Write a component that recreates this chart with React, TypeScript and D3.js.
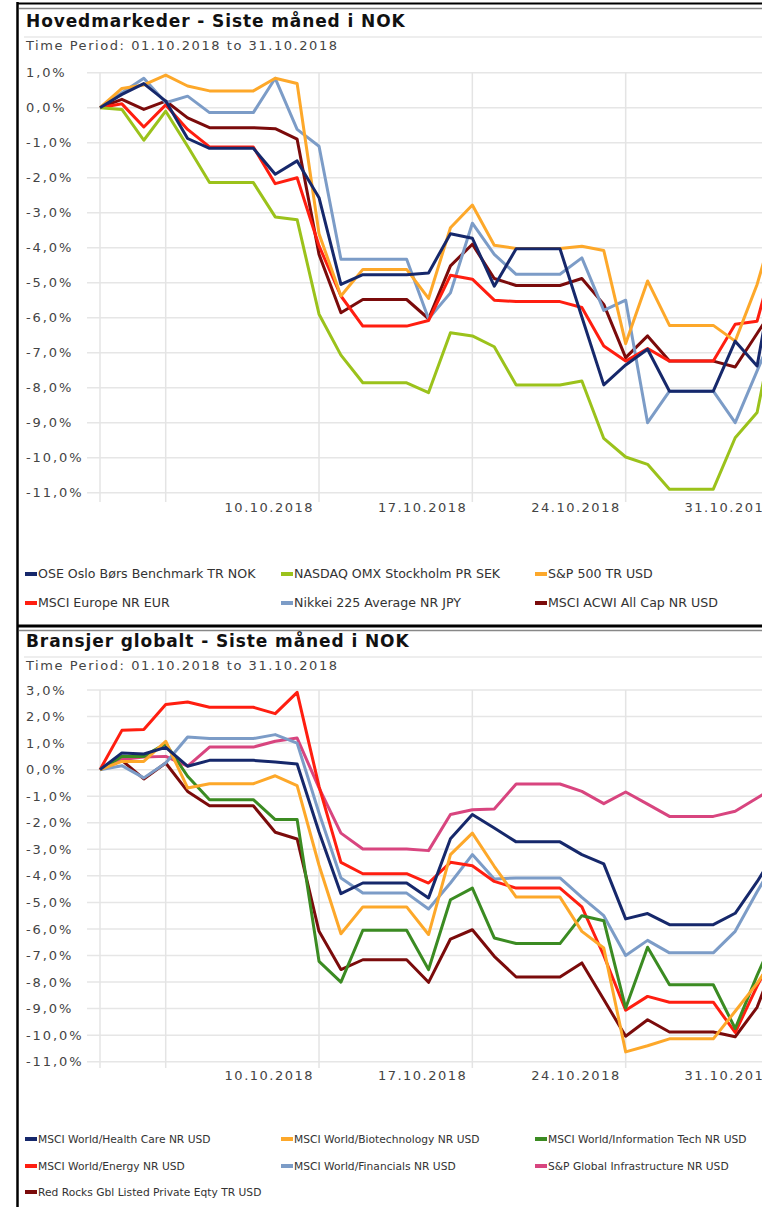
import React, { useEffect, useRef } from 'react';
import * as d3 from 'd3';

// calendar days shown on the x axis (weekends carry the previous value)
const dates = [
  '30.09.2018', '01.10.2018', '02.10.2018', '03.10.2018', '04.10.2018', '05.10.2018', '06.10.2018', '07.10.2018',
  '08.10.2018', '09.10.2018', '10.10.2018', '11.10.2018', '12.10.2018', '13.10.2018', '14.10.2018', '15.10.2018',
  '16.10.2018', '17.10.2018', '18.10.2018', '19.10.2018', '20.10.2018', '21.10.2018', '22.10.2018', '23.10.2018',
  '24.10.2018', '25.10.2018', '26.10.2018', '27.10.2018', '28.10.2018', '29.10.2018', '30.10.2018', '31.10.2018',
];
const gridDates = ['30.09.2018', '03.10.2018', '10.10.2018', '17.10.2018', '24.10.2018', '31.10.2018'];
const xTickLabels = ['10.10.2018', '17.10.2018', '24.10.2018', '31.10.2018'];

const topTicks = [1, 0, -1, -2, -3, -4, -5, -6, -7, -8, -9, -10, -11];
const bottomTicks = [3, 2, 1, 0, -1, -2, -3, -4, -5, -6, -7, -8, -9, -10, -11];

// Hovedmarkeder
const topNames = [
  'OSE Oslo Børs Benchmark TR NOK', 'NASDAQ OMX Stockholm PR SEK', 'S&P 500 TR USD',
  'MSCI Europe NR EUR', 'Nikkei 225 Average NR JPY', 'MSCI ACWI All Cap NR USD',
];
const topColors = ['#16286b', '#9bc21b', '#fda82a', '#ff1e10', '#7c9cc7', '#7b0b0b'];
const oseOslo = [0, 0.38, 0.69, 0.19, -0.88, -1.16, -1.16, -1.16, -1.9, -1.52, -2.57, -5.05, -4.77, -4.77, -4.77, -4.72, -3.6, -3.73, -5.1, -4.03, -4.03, -4.03, -5.98, -7.92, -7.35, -6.9, -8.1, -8.1, -8.1, -6.67, -7.38, -3.9];
const omxStockholm = [0, -0.05, -0.93, -0.1, -1.1, -2.14, -2.14, -2.14, -3.12, -3.2, -5.9, -7.07, -7.86, -7.86, -7.86, -8.14, -6.43, -6.52, -6.83, -7.92, -7.92, -7.92, -7.81, -9.45, -9.98, -10.19, -10.9, -10.9, -10.9, -9.43, -8.71, -5.6];
const sp500 = [0, 0.55, 0.65, 0.93, 0.62, 0.48, 0.48, 0.48, 0.84, 0.69, -3.6, -5.38, -4.62, -4.62, -4.62, -5.45, -3.43, -2.78, -3.93, -4.02, -4.02, -4.02, -3.96, -4.08, -6.74, -4.95, -6.22, -6.22, -6.22, -6.67, -5.05, -2.9];
const msciEurope = [0, 0.11, -0.55, 0.08, -0.62, -1.12, -1.12, -1.12, -2.17, -2.0, -3.95, -5.38, -6.24, -6.24, -6.24, -6.08, -4.79, -4.9, -5.5, -5.54, -5.54, -5.54, -5.71, -6.81, -7.24, -6.88, -7.24, -7.24, -7.24, -6.19, -6.1, -3.8];
const nikkei = [0, 0.43, 0.84, 0.14, 0.33, -0.14, -0.14, -0.14, 0.84, -0.62, -1.1, -4.33, -4.33, -4.33, -4.33, -6.03, -5.29, -3.3, -4.19, -4.76, -4.76, -4.76, -4.29, -5.79, -5.5, -9.0, -8.1, -8.1, -8.1, -9.0, -7.52, -6.04];
const msciAcwi = [0, 0.24, -0.05, 0.19, -0.29, -0.57, -0.57, -0.57, -0.6, -0.9, -4.19, -5.86, -5.48, -5.48, -5.48, -6.03, -4.52, -3.9, -4.88, -5.08, -5.08, -5.08, -4.88, -5.62, -7.14, -6.52, -7.24, -7.24, -7.24, -7.41, -6.45, -5.5];

// Bransjer globalt
const bottomNames = [
  'MSCI World/Health Care NR USD', 'MSCI World/Biotechnology NR USD', 'MSCI World/Information Tech NR USD',
  'MSCI World/Energy NR USD', 'MSCI World/Financials NR USD', 'S&P Global Infrastructure NR USD',
  'Red Rocks Gbl Listed Private Eqty TR USD',
];
const bottomColors = ['#16286b', '#fda82a', '#3b8b22', '#ff1e10', '#7c9cc7', '#d8457f', '#7b0b0b'];
const healthCare = [0, 0.63, 0.59, 0.84, 0.13, 0.35, 0.35, 0.35, 0.29, 0.21, -2.35, -4.67, -4.27, -4.27, -4.27, -4.83, -2.6, -1.69, -2.2, -2.72, -2.72, -2.72, -3.2, -3.55, -5.62, -5.42, -5.84, -5.84, -5.84, -5.41, -4.22, -2.9];
const biotech = [0, 0.31, 0.31, 1.07, -0.69, -0.53, -0.53, -0.53, -0.23, -0.6, -3.6, -6.18, -5.17, -5.17, -5.17, -6.21, -3.2, -2.39, -3.64, -4.8, -4.8, -4.8, -6.09, -6.72, -10.63, -10.4, -10.14, -10.14, -10.14, -9.1, -8.05, -6.8];
const infoTech = [0, 0.5, 0.5, 0.98, -0.25, -1.13, -1.13, -1.13, -1.88, -1.88, -7.22, -8.0, -6.05, -6.05, -6.05, -7.53, -4.9, -4.46, -6.34, -6.55, -6.55, -6.55, -5.5, -5.69, -8.98, -6.69, -8.1, -8.1, -8.1, -9.75, -7.75, -5.9];
const energy = [0, 1.48, 1.51, 2.45, 2.55, 2.35, 2.35, 2.35, 2.11, 2.91, -0.63, -3.49, -3.92, -3.92, -3.92, -4.27, -3.49, -3.62, -4.21, -4.46, -4.46, -4.46, -5.17, -7.0, -9.06, -8.54, -8.76, -8.76, -8.76, -9.9, -8.15, -6.6];
const financials = [0, 0.15, -0.31, 0.25, 1.23, 1.17, 1.17, 1.17, 1.32, 1.0, -1.63, -4.08, -4.65, -4.65, -4.65, -5.25, -4.27, -3.2, -4.12, -4.08, -4.08, -4.08, -4.81, -5.5, -7.0, -6.43, -6.9, -6.9, -6.9, -6.09, -4.6, -3.2];
const infrastructure = [0, 0.38, 0.48, 0.5, 0.13, 0.85, 0.85, 0.85, 1.07, 1.19, -0.69, -2.39, -2.99, -2.99, -2.99, -3.05, -1.69, -1.51, -1.48, -0.54, -0.54, -0.54, -0.82, -1.28, -0.84, -1.3, -1.76, -1.76, -1.76, -1.57, -1.07, -0.55];
const redRocks = [0, 0.35, -0.35, 0.25, -0.82, -1.36, -1.36, -1.36, -2.36, -2.61, -6.09, -7.53, -7.16, -7.16, -7.16, -8.01, -6.38, -6.03, -7.03, -7.81, -7.81, -7.81, -7.28, -8.66, -10.04, -9.42, -9.88, -9.88, -9.88, -10.06, -8.95, -6.8];

const W = 762;
const H = 1207;
const FONT = '"DejaVu Sans", Verdana, sans-serif';
const parse = d3.timeParse('%d.%m.%Y');
const fmtPct = (v) => d3.format('.1f')(v).replace('.', ',').replace('\u2212', '-') + '%';

const panels = [
  {
    title: 'Hovedmarkeder - Siste måned i NOK',
    oy: 0,
    yRange: [492.7, 72.7],
    ticks: topTicks,
    xLabelY: 507,
    vBottom: 502,
    legendY: [574, 603],
    legendSize: 12.6,
    names: topNames,
    colors: topColors,
    values: [oseOslo, omxStockholm, sp500, msciEurope, nikkei, msciAcwi],
  },
  {
    title: 'Bransjer globalt - Siste måned i NOK',
    oy: 620,
    yRange: [1061.7, 690],
    ticks: bottomTicks,
    xLabelY: 1075,
    vBottom: 1068,
    legendY: [1139, 1166, 1192],
    legendSize: 10.7,
    names: bottomNames,
    colors: bottomColors,
    values: [healthCare, biotech, infoTech, energy, financials, infrastructure, redRocks],
  },
];

const Charts = () => {
  const svgRef = useRef(null);

  useEffect(() => {
    const svg = d3.select(svgRef.current);
    svg.selectAll('*').remove();

    const x = d3.scaleTime()
      .domain([parse(dates[0]), parse(dates[dates.length - 1])])
      .range([100, 779]);

    panels.forEach(p => {
      const g = svg.append('g');
      const y = d3.scaleLinear()
        .domain([d3.min(p.ticks), d3.max(p.ticks)])
        .range(p.yRange);
      const top = p.yRange[1];

      // header
      g.append('line').attr('x1', 24).attr('x2', W).attr('y1', p.oy + 37).attr('y2', p.oy + 37)
        .attr('stroke', '#e8e8e8').attr('stroke-width', 1.5);
      g.append('text')
        .attr('x', 26).attr('y', p.oy + 26.5)
        .attr('font-family', FONT).attr('font-size', 17).attr('font-weight', 'bold')
        .attr('letter-spacing', 0.9).attr('fill', '#111')
        .text(p.title);
      g.append('text')
        .attr('x', 26).attr('y', p.oy + 50)
        .attr('font-family', FONT).attr('font-size', 13).attr('letter-spacing', 1.55).attr('fill', '#444')
        .text('Time Period: 01.10.2018 to 31.10.2018');

      // grid
      g.selectAll('.hgrid').data(p.ticks).enter().append('line')
        .attr('x1', 87).attr('x2', W)
        .attr('y1', d => y(d)).attr('y2', d => y(d))
        .attr('stroke', '#e6e6e6').attr('stroke-width', 1.5);
      g.selectAll('.vgrid').data(gridDates).enter().append('line')
        .attr('x1', d => x(parse(d))).attr('x2', d => x(parse(d)))
        .attr('y1', top).attr('y2', p.vBottom)
        .attr('stroke', '#e4e4e4').attr('stroke-width', 1.5);

      g.selectAll('.ylab').data(p.ticks).enter().append('text')
        .attr('x', 26).attr('y', d => y(d))
        .attr('dy', '0.35em')
        .attr('font-family', FONT).attr('font-size', 13).attr('letter-spacing', 1.9).attr('fill', '#444')
        .text(d => fmtPct(d));

      g.selectAll('.xlab').data(xTickLabels).enter().append('text')
        .attr('x', d => x(parse(d)) - 5).attr('y', p.xLabelY)
        .attr('dy', '0.35em').attr('text-anchor', 'end')
        .attr('font-family', FONT).attr('font-size', 13).attr('letter-spacing', 1.5).attr('fill', '#444')
        .text(d => d);

      // lines, first legend entry drawn last so it sits on top
      const line = d3.line()
        .x((d, i) => x(parse(dates[i])))
        .y(d => y(d));
      const order = p.values.map((v, i) => i).reverse();
      g.selectAll('.series').data(order).enter().append('path')
        .attr('d', i => line(p.values[i]))
        .attr('fill', 'none')
        .attr('stroke', i => p.colors[i])
        .attr('stroke-width', 3)
        .attr('stroke-linejoin', 'round');

      // legend
      const colX = [25, 281, 535];
      const items = g.selectAll('.leg').data(p.names).enter().append('g')
        .attr('transform', (d, i) => `translate(${colX[i % 3]},${p.legendY[Math.floor(i / 3)]})`);
      items.append('rect')
        .attr('x', 0).attr('y', -2).attr('width', 12).attr('height', 4)
        .attr('fill', (d, i) => p.colors[i]);
      items.append('text')
        .attr('x', 13).attr('y', 0).attr('dy', '0.35em')
        .attr('font-family', FONT).attr('font-size', p.legendSize).attr('fill', '#333')
        .text(d => d);
    });

    // frame
    svg.append('line').attr('x1', 17.5).attr('x2', 17.5).attr('y1', 2).attr('y2', H)
      .attr('stroke', '#000').attr('stroke-width', 2.5);
    svg.append('line').attr('x1', 17).attr('x2', W).attr('y1', 3.5).attr('y2', 3.5)
      .attr('stroke', '#000').attr('stroke-width', 2);
    svg.append('line').attr('x1', 19).attr('x2', W).attr('y1', 8.5).attr('y2', 8.5)
      .attr('stroke', '#888').attr('stroke-width', 1.5);
    svg.append('line').attr('x1', 17).attr('x2', W).attr('y1', 626).attr('y2', 626)
      .attr('stroke', '#000').attr('stroke-width', 3);
    svg.append('line').attr('x1', 19).attr('x2', W).attr('y1', 630.5).attr('y2', 630.5)
      .attr('stroke', '#888').attr('stroke-width', 1.5);
  }, []);

  return (
    <svg ref={svgRef} width={W} height={H} style={{ display: 'block', background: '#fff' }}></svg>
  );
};

const App = () => {
  return (
    <div style={{ position: 'absolute', left: 0, top: 0 }}>
      <Charts />
    </div>
  );
};

export default App;
